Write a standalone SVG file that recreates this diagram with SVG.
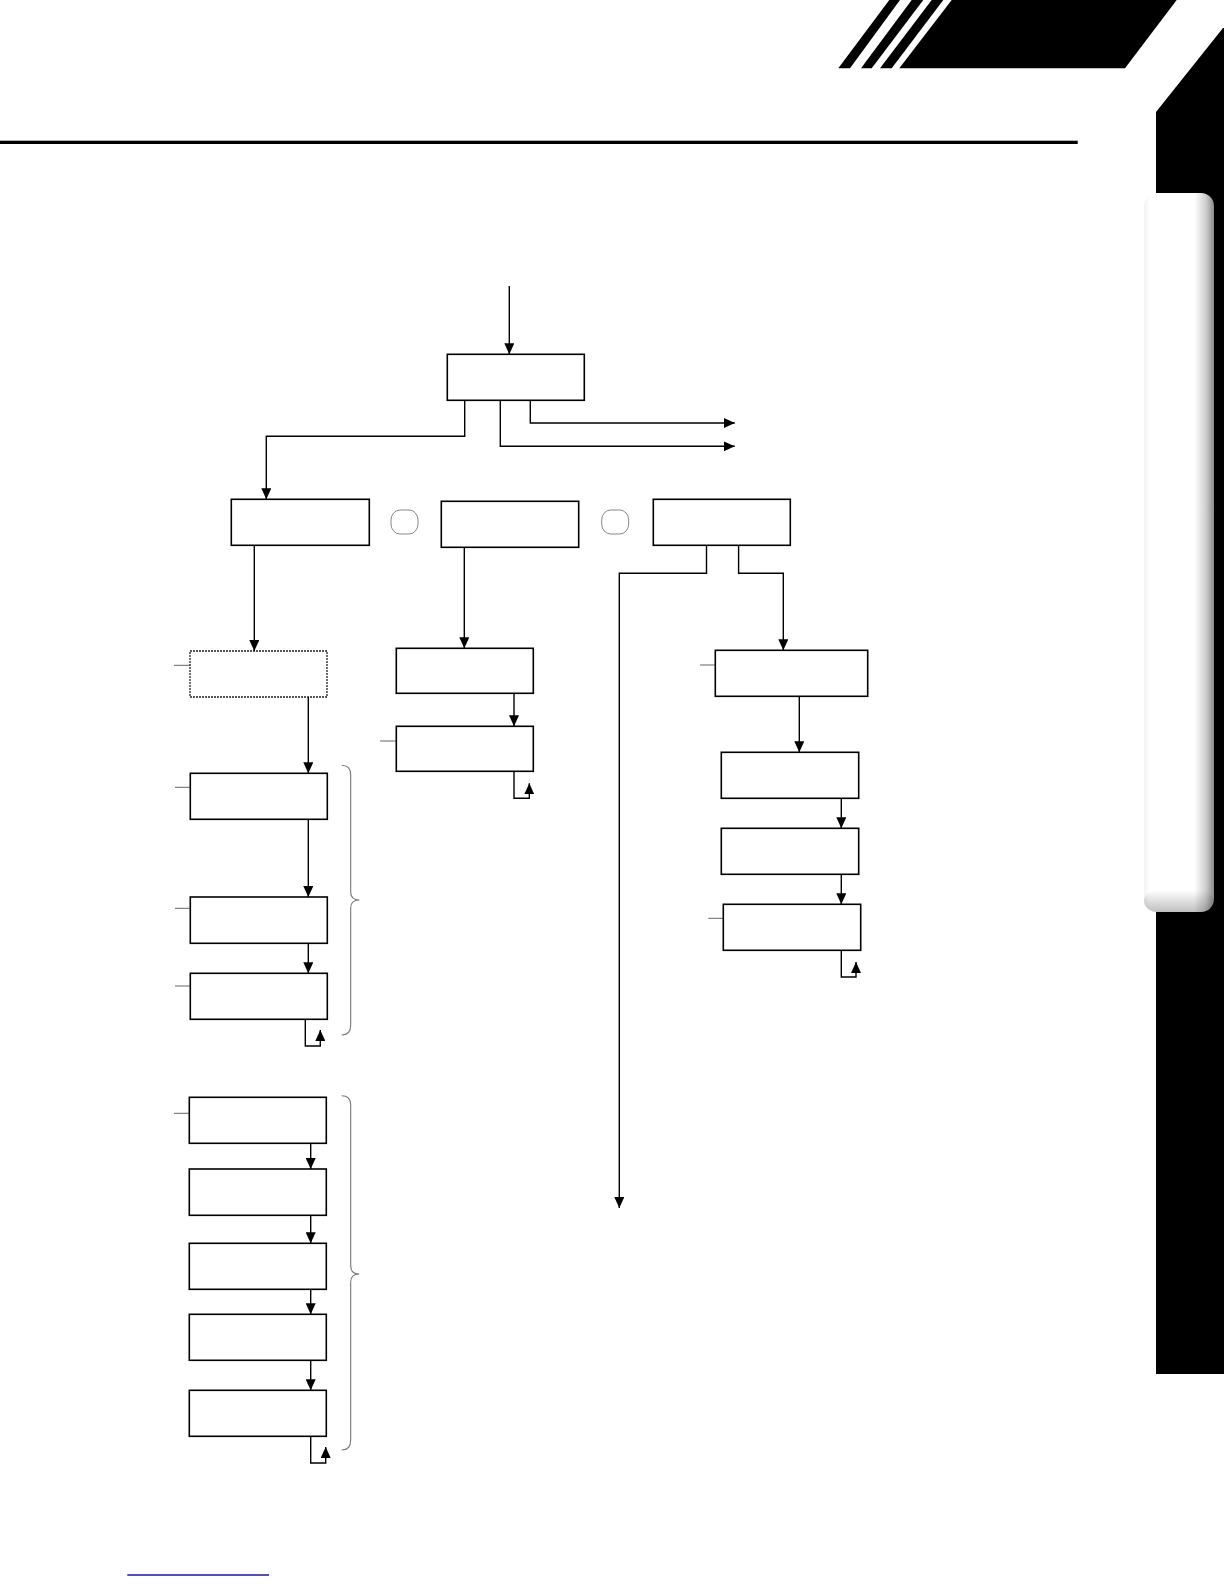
<svg xmlns="http://www.w3.org/2000/svg" width="1224" height="1584" viewBox="0 0 1224 1584">
<style>
.box{fill:#fff;stroke:#000;stroke-width:1.6}
.dot{fill:#fff;stroke:#222;stroke-width:1.3;stroke-dasharray:2 1}
.ln{fill:none;stroke:#000;stroke-width:1.4}
.arr{marker-end:url(#ah)}
.tick{stroke:#555;stroke-width:0.9}
.conn{fill:#fff;stroke:#888;stroke-width:1}
.brace{fill:none;stroke:#777;stroke-width:1.1}
</style>
<defs>
<marker id="ah" viewBox="0 0 10 10" refX="10" refY="5" markerWidth="11" markerHeight="10" markerUnits="userSpaceOnUse" orient="auto" preserveAspectRatio="none">
<path d="M0,0 L10,5 L0,10 z" fill="#000"/>
</marker>
<linearGradient id="tabH" x1="0" y1="0" x2="1" y2="0">
<stop offset="0" stop-color="#f2f2f2"/>
<stop offset="0.08" stop-color="#ffffff"/>
<stop offset="0.72" stop-color="#ffffff"/>
<stop offset="0.88" stop-color="#d0d0d0"/>
<stop offset="1" stop-color="#8a8a8a"/>
</linearGradient>
<linearGradient id="tabV" x1="0" y1="0" x2="0" y2="1">
<stop offset="0" stop-color="#000" stop-opacity="0"/>
<stop offset="1" stop-color="#000" stop-opacity="0.25"/>
</linearGradient>
</defs>

<g id="decor">
<polygon points="838.3,68.3 850,68.3 900,0 889.3,0" fill="#000"/>
<polygon points="861,68.3 871.7,68.3 923.3,0 911.7,0" fill="#000"/>
<polygon points="880,68.3 891.7,68.3 943.3,0 931.7,0" fill="#000"/>
<polygon points="899.3,68.3 1125,68.3 1176.7,0 951.7,0" fill="#000"/>
<rect x="0" y="140.7" width="1077.7" height="3.3" fill="#000"/>
<polygon points="1156,112 1223,28 1224,28 1224,1374 1156,1374" fill="#000"/>
<rect x="1144" y="193" width="70" height="719" rx="13" ry="13" fill="url(#tabH)"/>
<rect x="1144" y="890" width="70" height="22" rx="13" ry="13" fill="url(#tabV)"/>
<line x1="127.3" y1="1575" x2="269" y2="1575" stroke="#1a1a9a" stroke-width="1.5"/>
</g>

<g id="node-top"><rect class="box" x="447.3" y="354.3" width="137" height="46"/></g>
<g id="node-l1"><rect class="box" x="231.3" y="499.3" width="138" height="46"/></g>
<g id="conn-1"><rect class="conn" x="391" y="510" width="27" height="24" rx="9" ry="10"/></g>
<g id="node-m1"><rect class="box" x="441.3" y="501.3" width="137.4" height="46"/></g>
<g id="conn-2"><rect class="conn" x="601.7" y="510" width="27" height="24" rx="9" ry="10"/></g>
<g id="node-r1"><rect class="box" x="653.3" y="499.3" width="137" height="46"/></g>

<g id="node-d"><line class="tick" x1="174" y1="665.3" x2="190" y2="665.3"/><rect class="dot" x="190" y="651" width="137" height="46"/></g>
<g id="node-a1"><line class="tick" x1="175" y1="787.3" x2="190.3" y2="787.3"/><rect class="box" x="190.3" y="773.3" width="137" height="46"/></g>
<g id="node-a2"><line class="tick" x1="175" y1="908.3" x2="190.3" y2="908.3"/><rect class="box" x="190.3" y="897" width="137" height="46.3"/></g>
<g id="node-a3"><line class="tick" x1="175" y1="986" x2="190.3" y2="986"/><rect class="box" x="190.3" y="973.3" width="137" height="46"/></g>

<g id="node-m2"><rect class="box" x="396.3" y="648.3" width="137" height="45"/></g>
<g id="node-m3"><line class="tick" x1="380" y1="741" x2="396.3" y2="741"/><rect class="box" x="396.3" y="726.3" width="137" height="45"/></g>

<g id="node-r2"><line class="tick" x1="700" y1="665" x2="715.3" y2="665"/><rect class="box" x="715.3" y="650.3" width="152.4" height="46"/></g>
<g id="node-r3"><rect class="box" x="721.3" y="752.3" width="137.4" height="46"/></g>
<g id="node-r4"><rect class="box" x="721.3" y="828.3" width="137.4" height="46"/></g>
<g id="node-r5"><line class="tick" x1="708.3" y1="918.3" x2="723.3" y2="918.3"/><rect class="box" x="723.3" y="904.3" width="137.4" height="46"/></g>

<g id="node-b1"><line class="tick" x1="174" y1="1113.3" x2="189.3" y2="1113.3"/><rect class="box" x="189.3" y="1097.3" width="137" height="46"/></g>
<g id="node-b2"><rect class="box" x="189.3" y="1169" width="137" height="46.3"/></g>
<g id="node-b3"><rect class="box" x="189.3" y="1243.3" width="137" height="46"/></g>
<g id="node-b4"><rect class="box" x="189.3" y="1314.3" width="137" height="46"/></g>
<g id="node-b5"><rect class="box" x="189.3" y="1390.3" width="137" height="46"/></g>

<g id="connectors">
<path class="ln arr" d="M509.3,286 V354.3"/>
<path class="ln arr" d="M464.7,400.3 V436.3 H266.3 V499.3"/>
<path class="ln arr" d="M500.3,400.3 V446.3 H734.8"/>
<path class="ln arr" d="M530.3,400.3 V423 H734.8"/>
<path class="ln arr" d="M254.3,545.3 V651"/>
<path class="ln arr" d="M464.3,547.3 V648.3"/>
<path class="ln arr" d="M706.5,545.3 V573.3 H619.3 V1208"/>
<path class="ln arr" d="M738.6,545.3 V573.3 H783.3 V650.3"/>
<path class="ln arr" d="M308.3,697 V773.3"/>
<path class="ln arr" d="M308.3,819.3 V897"/>
<path class="ln arr" d="M308.3,943.3 V973.3"/>
<path class="ln arr" d="M305.3,1019.3 V1046 H320.3 V1030"/>
<path class="ln arr" d="M514,693.3 V726.3"/>
<path class="ln arr" d="M514,771.3 V798.3 H529.3 V783.3"/>
<path class="ln arr" d="M799.3,696.3 V752.3"/>
<path class="ln arr" d="M841.3,798.3 V828.3"/>
<path class="ln arr" d="M841.3,874.3 V904.3"/>
<path class="ln arr" d="M841.3,950.3 V977 H856 V962"/>
<path class="ln arr" d="M310.7,1143.3 V1169"/>
<path class="ln arr" d="M310.7,1215.3 V1243.3"/>
<path class="ln arr" d="M310.7,1289.3 V1314.3"/>
<path class="ln arr" d="M310.7,1360.3 V1390.3"/>
<path class="ln arr" d="M310.7,1436.3 V1463 H325.7 V1447"/>
<path class="brace" d="M341.7,765.3 Q350.7,765.3 350.7,775 L350.7,892 Q350.7,900 359.3,900 Q350.7,900 350.7,908 L350.7,1025 Q350.7,1035 341.7,1035"/>
<path class="brace" d="M341.7,1095.7 Q350.7,1095.7 350.7,1105 L350.7,1266 Q350.7,1274 359.3,1274 Q350.7,1274 350.7,1282 L350.7,1440 Q350.7,1450 341.7,1450"/>
</g>
</svg>
